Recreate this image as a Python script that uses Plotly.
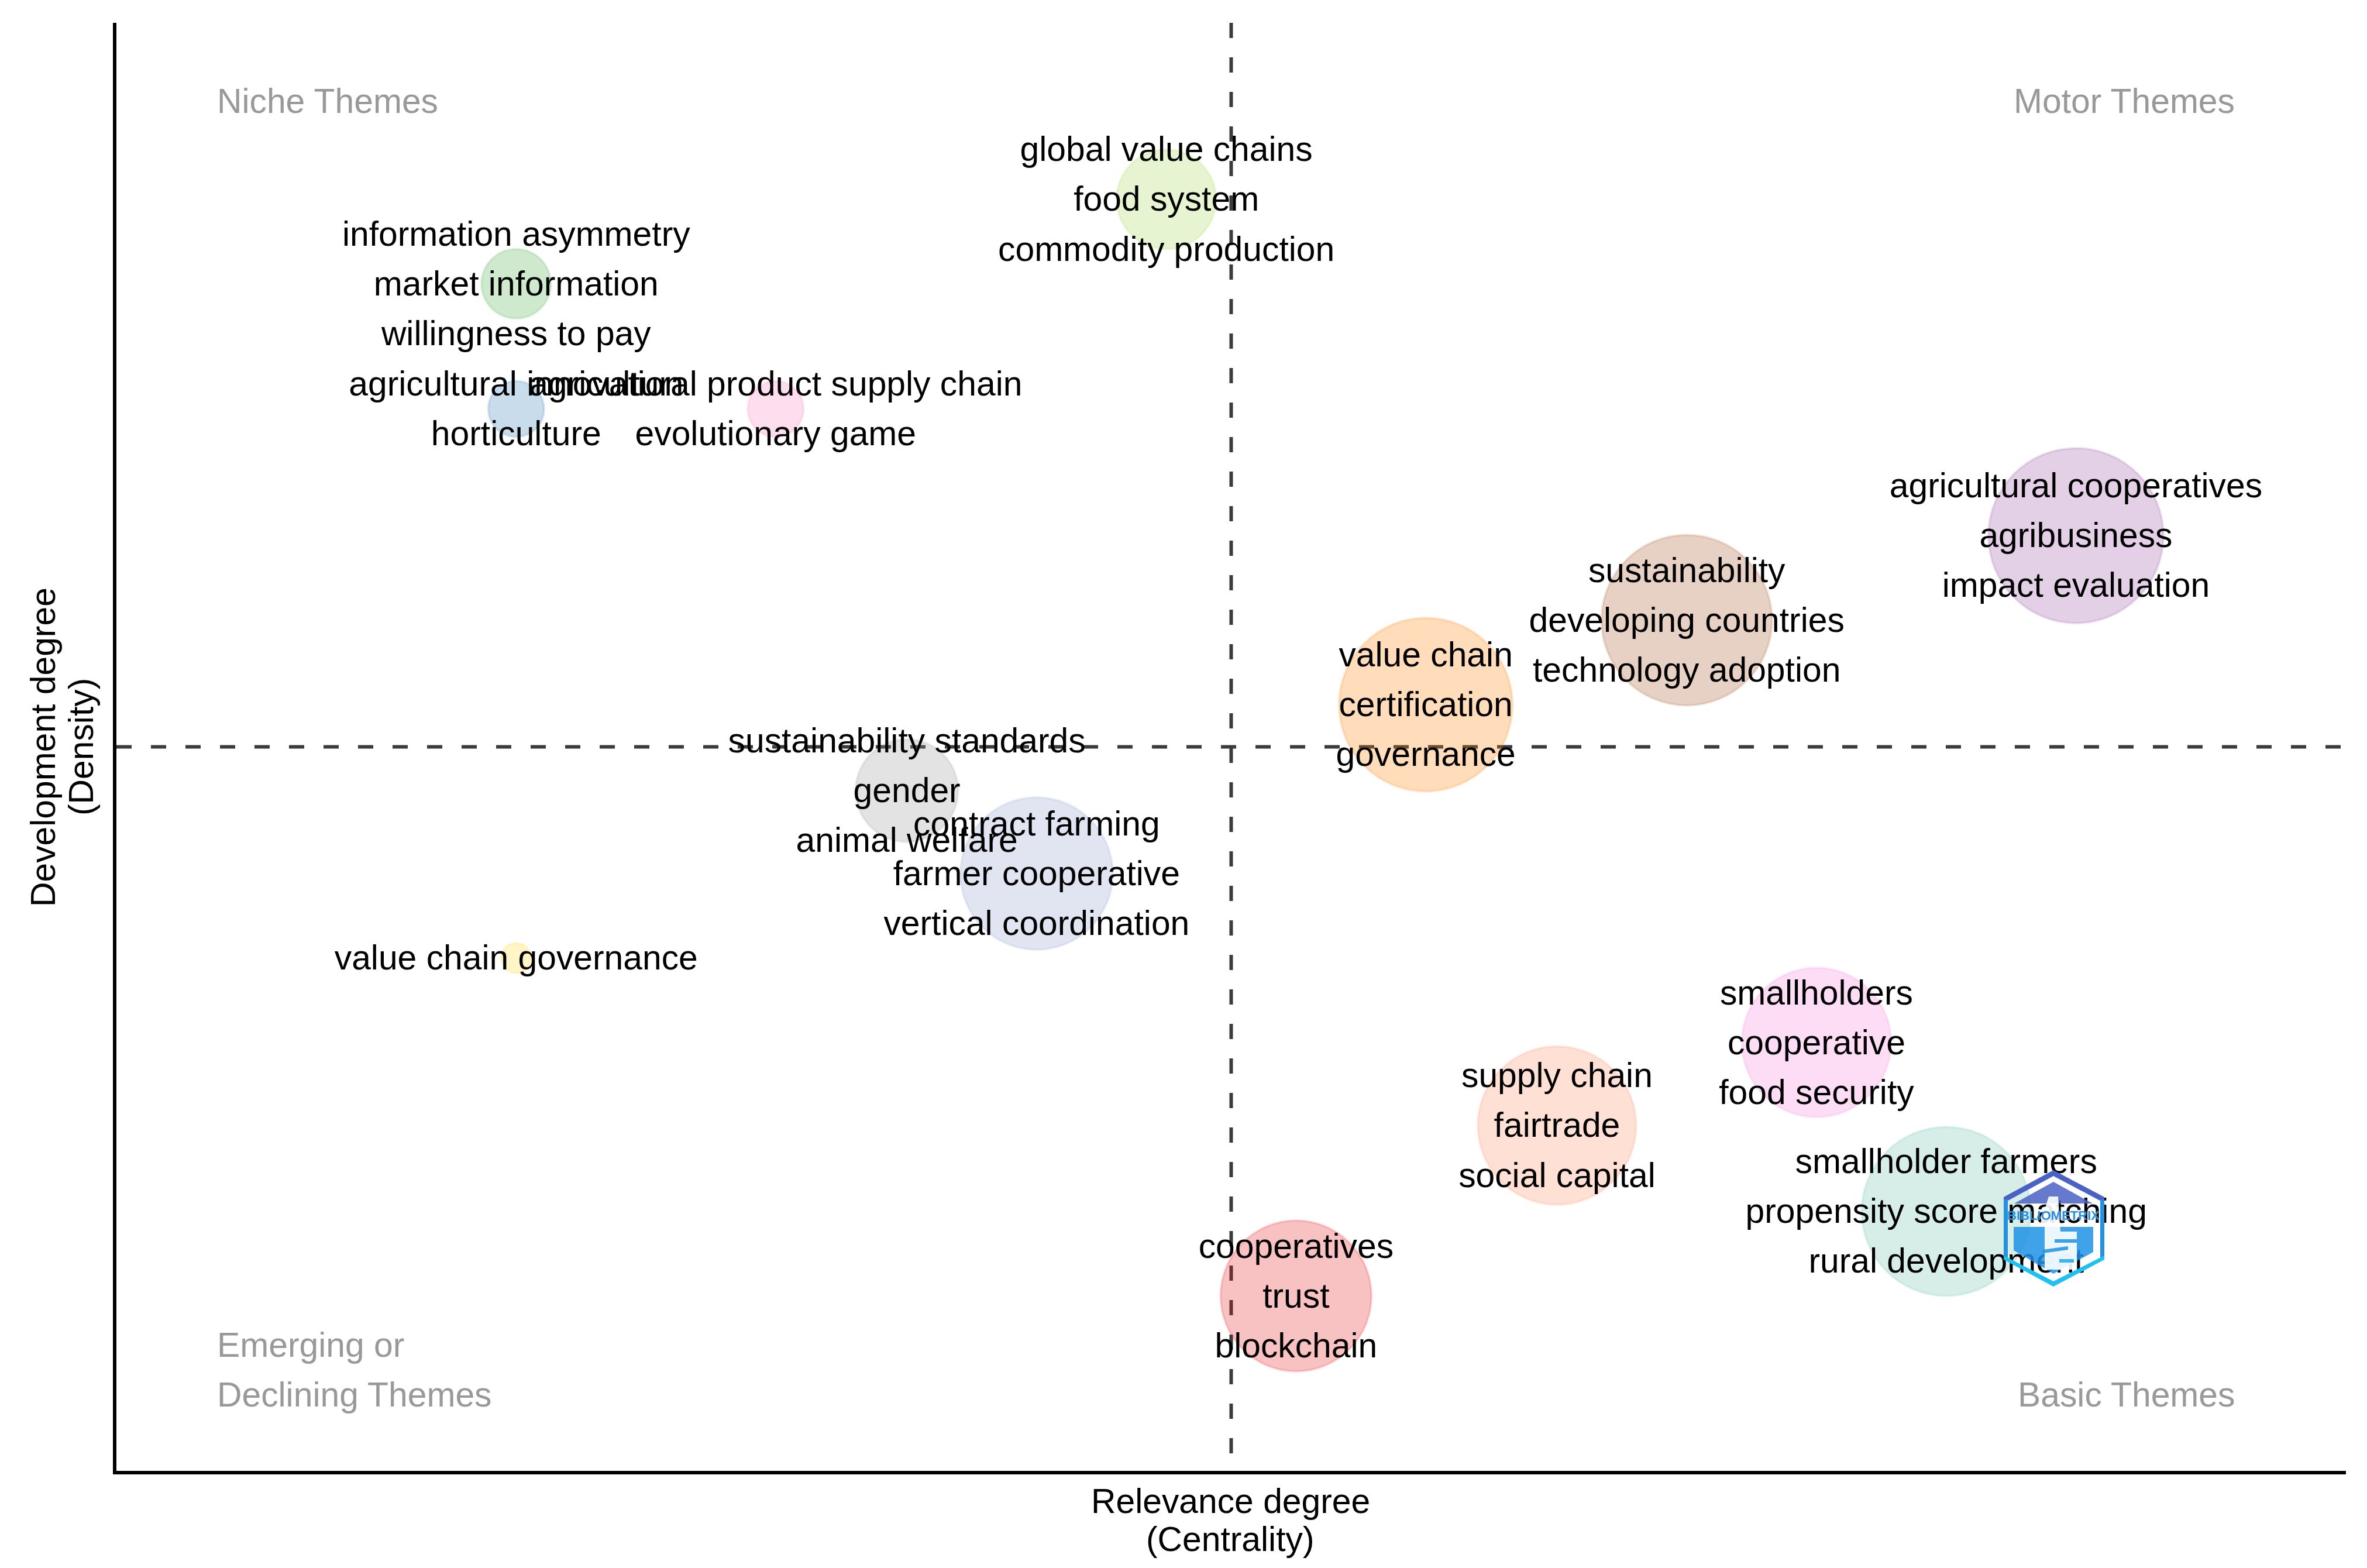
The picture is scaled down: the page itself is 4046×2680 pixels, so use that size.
import plotly.graph_objects as go

# Thematic map values (median lines sit at 0, 0)
centrality = [-0.43, -4.74, -4.74, -3.02, 5.60, 3.02, 1.29, -2.15, -1.29, -4.74, 3.88, 2.16, 4.74, 0.43]
density = [3.63, 3.07, 2.24, 2.24, 1.40, 0.84, 0.28, -0.29, -0.84, -1.40, -1.96, -2.51, -3.08, -3.64]
bubble_size = [66, 46, 37, 37, 116, 113, 115, 68, 101, 20, 99, 105, 112, 100]
bubble_rgb = ["166,216,84", "77,175,74", "55,126,184", "247,129,191", "152,78,163", "166,86,40",
              "255,127,0", "153,153,153", "141,160,203", "255,217,47", "247,129,220", "252,141,98",
              "102,194,165", "228,26,28"]
labels = [
    ["global value chains", "food system", "commodity production"],
    ["information asymmetry", "market information", "willingness to pay"],
    ["agricultural innovation", "horticulture"],
    ["agricultural product supply chain", "evolutionary game"],
    ["agricultural cooperatives", "agribusiness", "impact evaluation"],
    ["sustainability", "developing countries", "technology adoption"],
    ["value chain", "certification", "governance"],
    ["sustainability standards", "gender", "animal welfare"],
    ["contract farming", "farmer cooperative", "vertical coordination"],
    ["value chain governance"],
    ["smallholders", "cooperative", "food security"],
    ["supply chain", "fairtrade", "social capital"],
    ["smallholder farmers", "propensity score matching", "rural development"],
    ["cooperatives", "trust", "blockchain"],
]
quadrants = ["Niche Themes", "Motor Themes", "Emerging or", "Declining Themes", "Basic Themes"]

W, H = 4046, 2680
L, R, T, B = 199, 4010, 39, 2514
LINE = 0.33
LABEL_DROP = 0.02
FONT = "Liberation Sans, Arial, sans-serif"
FS = 58.8

label_x, label_y, label_t = [], [], []
for x, y, lines in zip(centrality, density, labels):
    n = len(lines)
    for i, t in enumerate(lines):
        label_x.append(x)
        label_y.append(y + LINE * (n - 1) / 2 - i * LINE - LABEL_DROP)
        label_t.append(t)

fig = go.Figure()
fig.add_trace(go.Scatter(
    x=centrality, y=density, mode="markers", hoverinfo="skip",
    marker=dict(size=bubble_size, sizemode="diameter", sizeref=1 / 2.58, opacity=1,
                color=[f"rgba({c},0.27)" for c in bubble_rgb],
                line=dict(color=[f"rgba({c},0.16)" for c in bubble_rgb], width=4)),
))
fig.add_trace(go.Scatter(
    x=label_x, y=label_y, mode="text", text=label_t, textposition="middle center",
    textfont=dict(family=FONT, size=FS, color="black"), hoverinfo="skip",
))


def px(x, y):
    return (x - L) / (R - L), (B - y) / (B - T)


def path(points):
    out = []
    for i, (x, y) in enumerate(points):
        u, v = px(x, y)
        out.append(("M" if i == 0 else "L") + f"{u:.5f},{v:.5f}")
    return " ".join(out) + " Z"


def logo_shape(points, fill, opacity=0.85):
    return dict(type="path", xref="paper", yref="paper", path=path(points), layer="above",
                fillcolor=fill, line=dict(width=0), opacity=opacity)


hex_top = "#4a62c4"
hex_mid = "#2390e2"
hex_low = "#1fc0f2"
shapes = [
    dict(type="line", x0=0, x1=0, yref="paper", y0=1, y1=0, layer="below",
         line=dict(color="#3c3c3c", width=6, dash="26px,33px")),
    dict(type="line", y0=0, y1=0, xref="paper", x0=0, x1=1, layer="below",
         line=dict(color="#3c3c3c", width=6, dash="26px,33px")),
    logo_shape([(3510, 2000), (3597, 2046), (3597, 2056), (3510, 2010), (3425, 2056), (3425, 2046)], hex_top, 1),
    logo_shape([(3425, 2050), (3432, 2050), (3432, 2150), (3425, 2150)], hex_mid, 1),
    logo_shape([(3590, 2050), (3597, 2050), (3597, 2150), (3590, 2150)], hex_mid, 1),
    logo_shape([(3425, 2146), (3510, 2190), (3597, 2146), (3597, 2153), (3510, 2199), (3425, 2153)], hex_low, 1),
    logo_shape([(3510, 2020), (3577, 2057), (3443, 2057)], hex_top),
    logo_shape([(3442, 2097), (3578, 2097), (3578, 2140), (3510, 2177), (3442, 2137)], "#1f92e4"),
    logo_shape([(3502, 2045), (3518, 2045), (3522, 2105), (3550, 2105), (3550, 2170), (3495, 2170), (3495, 2095), (3488, 2090)], "rgba(255,255,255,0.9)", 1),
    logo_shape([(3512, 2118), (3550, 2118), (3550, 2124), (3512, 2124)], "#1f92e4"),
    logo_shape([(3492, 2136), (3535, 2130), (3535, 2136), (3492, 2142)], "#1f92e4"),
    logo_shape([(3520, 2152), (3545, 2152), (3545, 2158), (3520, 2158)], "#1fa8ea"),
]

annotations = []


def add_text(text, x, y, color, anchor="left", angle=0, size=FS):
    u, v = px(x, y)
    annotations.append(dict(text=text, x=u, y=v, xref="paper", yref="paper", showarrow=False,
                            xanchor=anchor, yanchor="middle", textangle=angle,
                            font=dict(family=FONT, size=size, color=color)))


GREY = "#999999"
add_text(quadrants[0], 369, 172, GREY)
add_text(quadrants[1], 3822, 172, GREY, "right")
add_text(quadrants[2], 369, 2298, GREY)
add_text(quadrants[3], 369, 2383, GREY)
add_text(quadrants[4], 3822, 2383, GREY, "right")
add_text("Relevance degree", 2103, 2565, "black", "center")
add_text("(Centrality)", 2103, 2630, "black", "center")
add_text("Development degree", 73, 1277, "black", "center", -90)
add_text("(Density)", 138, 1277, "black", "center", -90)
add_text("<b>BIBLIOMETRIX</b>", 3510, 2077, "#2a8fdc", "center", 0, 22)

axis = dict(showgrid=False, zeroline=False, showticklabels=False, ticks="", showline=True,
            linecolor="black", linewidth=6, mirror=False)
fig.update_layout(
    width=W, height=H, autosize=False, showlegend=False,
    paper_bgcolor="white", plot_bgcolor="white",
    margin=dict(l=L, r=W - R, t=T, b=H - B, pad=0),
    xaxis=dict(range=[-7.39, 7.39], **axis),
    yaxis=dict(range=[-4.80, 4.80], **axis),
    shapes=shapes, annotations=annotations,
)
fig.write_html("out.html", post_script="document.body.style.margin='0';", config={"displayModeBar": False})
